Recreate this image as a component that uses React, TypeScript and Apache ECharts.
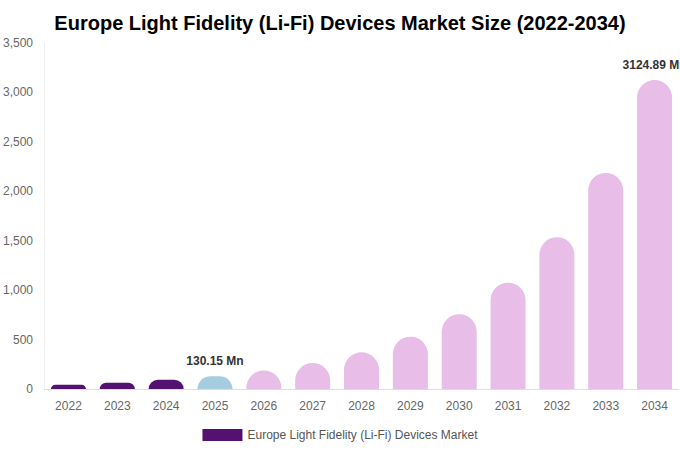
import React, { useEffect, useRef } from "react";
import * as echarts from "echarts";

const categories = ["2022","2023","2024","2025","2026","2027","2028","2029","2030","2031","2032","2033","2034"];
const values = [44, 64, 94, 130.15, 188, 263, 371, 529, 756, 1075, 1535, 2185, 3124.89];
const labeledYears = ["2025", "2034"];
const seriesName = "Europe Light Fidelity (Li-Fi) Devices Market";

const DARK = "#541270";
const BLUE = "#a6cce0";
const PINK = "#e8bde8";
const FONT = "Liberation Sans, Arial, sans-serif";

export default function App() {
  const ref = useRef<HTMLDivElement>(null);
  useEffect(() => {
    if (!ref.current) return;
    const chart = echarts.init(ref.current, null, { renderer: "svg" });
    const data = values.map((v, i) => {
      const year = parseInt(categories[i], 10);
      const color = year < 2025 ? DARK : year === 2025 ? BLUE : PINK;
      const show = labeledYears.includes(categories[i]);
      return {
        value: v,
        itemStyle: { color, borderRadius: [18, 18, 0, 0] },
        label: {
          show,
          position: "top",
          distance: 9,
          formatter: (p: any) => `${p.value} Mn`,
          fontWeight: "bold",
          fontSize: 12,
          color: "#333",
          fontFamily: FONT,
        },
      };
    });
    chart.setOption({
      animation: false,
      title: {
        text: "Europe Light Fidelity (Li-Fi) Devices Market Size (2022-2034)",
        left: "center",
        top: 8,
        textStyle: { fontSize: 20, fontWeight: "bold", color: "#000", fontFamily: FONT },
      },
      legend: {
        bottom: 4,
        left: "center",
        icon: "rect",
        itemWidth: 40,
        itemHeight: 12,
        itemGap: 6,
        data: [{ name: seriesName, itemStyle: { color: DARK } }],
        textStyle: { color: "#555", fontSize: 12, fontFamily: FONT },
      },
      grid: { left: 44, right: 1, top: 43, bottom: 61, containLabel: false },
      xAxis: {
        type: "category",
        data: categories,
        axisLine: { show: true, lineStyle: { color: "#ddd" } },
        axisTick: { show: false },
        axisLabel: { color: "#666", fontSize: 12, margin: 11, fontFamily: FONT },
      },
      yAxis: {
        type: "value",
        min: 0,
        max: 3500,
        interval: 500,
        axisLine: { show: true, lineStyle: { color: "#eee" } },
        axisTick: { show: false },
        splitLine: { show: false },
        axisLabel: {
          color: "#666",
          fontSize: 12,
          margin: 11,
          fontFamily: FONT,
          formatter: (v: number) => v.toLocaleString("en-US"),
        },
      },
      series: [
        {
          name: seriesName,
          type: "bar",
          barWidth: 35,
          data,
          itemStyle: { color: DARK },
        },
      ],
    });
    return () => chart.dispose();
  }, []);
  return <div ref={ref} style={{ position: "absolute", left: 0, top: 0, width: 680, height: 450 }} />;
}
